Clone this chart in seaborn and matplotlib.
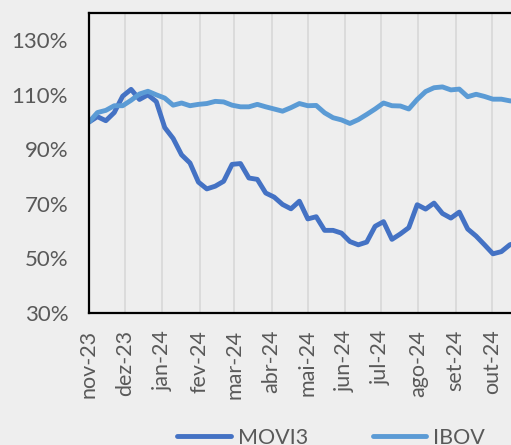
import pandas as pd
import seaborn as sns
import matplotlib.pyplot as plt

# valores semanais (base 100 = nov-23)
movi3 = [100, 102, 100.5, 103.5, 109.5, 112, 108.3, 110, 107.5, 98,
         94, 88, 85, 78, 75.5, 76.5, 78.3, 84.5, 84.8, 79.5,
         79, 74, 72.5, 69.8, 68.2, 71, 64.5, 65.3, 60.3, 60.3,
         59.3, 56.2, 55, 56, 61.8, 63.5, 57, 59, 61.3, 69.7,
         68.1, 70.3, 66.5, 64.8, 67, 60.8, 58.2, 55, 51.7, 52.5,
         55, 56]
ibov = [100, 103.5, 104.3, 106, 106, 108, 110.3, 111.3, 110, 108.8,
        106.2, 107, 106, 106.5, 106.8, 107.6, 107.4, 106.2, 105.6, 105.6,
        106.5, 105.6, 104.8, 104, 105.3, 106.8, 106, 106.1, 103.4, 101.6,
        100.8, 99.5, 100.9, 102.8, 104.8, 107, 106, 105.9, 104.8, 108.3,
        111.2, 112.6, 112.9, 111.8, 112.1, 109.3, 110.2, 109.4, 108.4, 108.4,
        107.8, 107.5]
# nov-24 fica fora da área visível no original
month_labels = ["nov-23", "dez-23", "jan-24", "fev-24", "mar-24", "abr-24",
                "mai-24", "jun-24", "jul-24", "ago-24", "set-24", "out-24", ""]
y_ticks = [30, 50, 70, 90, 110, 130]

dates = pd.date_range("2023-11-01", periods=len(movi3), freq="7D")
month_ticks = pd.date_range("2023-11-01", periods=len(month_labels), freq="MS")

df = pd.concat([
    pd.DataFrame({"data": dates, "valor": movi3, "serie": "MOVI3"}),
    pd.DataFrame({"data": dates, "valor": ibov, "serie": "IBOV"}),
])

bg = "#eeeeee"
grey = "#595959"
sns.set_style("white", {"axes.facecolor": bg, "figure.facecolor": bg})
plt.rcParams["font.family"] = ["Lato", "DejaVu Sans"]

fig = plt.figure(figsize=(5.11, 4.45), dpi=100)
# o gráfico original está cortado à direita
ax = fig.add_axes([89 / 511, 132 / 445, 440 / 511, 300 / 445])

sns.lineplot(data=df, x="data", y="valor", hue="serie",
             palette={"MOVI3": "#4472C4", "IBOV": "#5B9BD5"},
             linewidth=3.5, ax=ax)

ax.set_xlim(month_ticks[0], month_ticks[-1])
ax.set_ylim(30, 140)
ax.set_xticks(month_ticks)
ax.set_xticklabels(month_labels, rotation=90, fontsize=15.5, color=grey)
ax.set_yticks(y_ticks)
ax.set_yticklabels([f"{v}%" for v in y_ticks], fontsize=16, color=grey)
ax.set_xlabel("")
ax.set_ylabel("")

ax.grid(axis="x", color="#d9d9d9", linewidth=1.3)
ax.set_axisbelow(True)
for side in ["left", "top", "bottom"]:
    ax.spines[side].set_color("black")
    ax.spines[side].set_linewidth(1.6)
ax.spines["right"].set_visible(False)
ax.tick_params(axis="x", direction="out", length=5, width=1.5, color="black", pad=7)
ax.tick_params(axis="y", length=0, pad=15)

sns.move_legend(ax, "center", bbox_to_anchor=(331 / 511, 7 / 445),
                bbox_transform=fig.transFigure, ncol=2, frameon=False,
                title=None, fontsize=15.5, handlelength=2.5, handletextpad=0.3,
                columnspacing=3.0)
for t in ax.get_legend().get_texts():
    t.set_color(grey)

fig.savefig("out.png", dpi=100, facecolor=bg)
